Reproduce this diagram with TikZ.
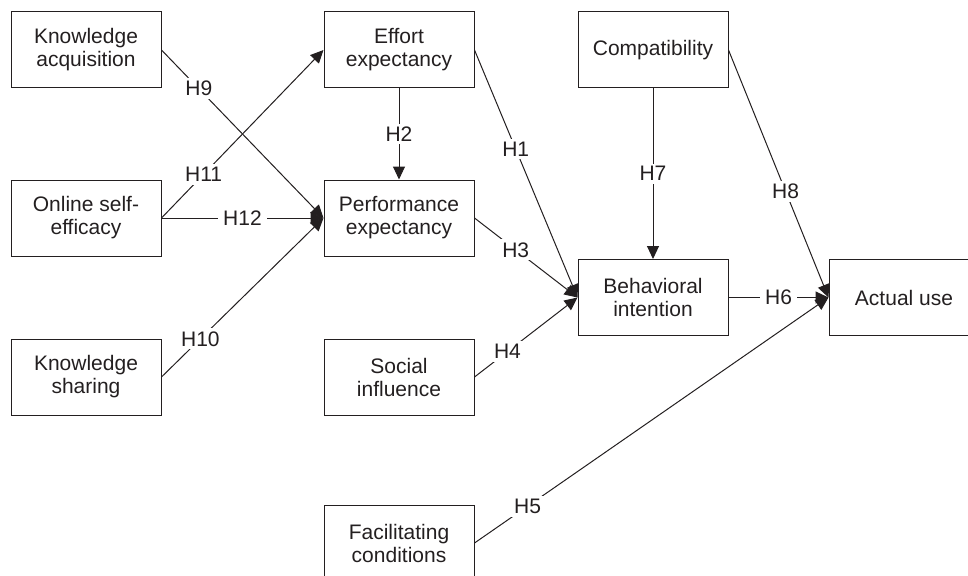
\documentclass[tikz,border=0pt]{standalone}
\usepackage{fontspec}
\setmainfont{Liberation Sans}
\usetikzlibrary{arrows.meta}
\definecolor{ink}{HTML}{231F20}
\begin{document}
\begin{tikzpicture}[x=1pt,y=-1pt,
  box/.style={draw=ink, line width=1pt, minimum width=150pt, minimum height=76pt, inner sep=0pt, align=center, text=ink, font=\fontsize{21}{23}\selectfont},
  conn/.style={draw=ink, line width=1pt, -{Triangle[length=13pt,width=12pt]}},
  hlab/.style={fill=white, inner xsep=5pt, inner ysep=3pt, text=ink, font=\fontsize{21}{23}\selectfont}]
\useasboundingbox (0,0) rectangle (968,575);
\clip (0,0) rectangle (968,575);
\node[box] (KA)  at (86,50)    {Knowledge\\acquisition};
\node[box] (OSE) at (86,218)   {Online self-\\efficacy};
\node[box] (KS)  at (86,377)   {Knowledge\\sharing};
\node[box] (EE)  at (399,50)   {Effort\\expectancy};
\node[box] (PE)  at (399,218)  {Performance\\expectancy};
\node[box] (SI)  at (399,377)  {Social\\influence};
\node[box] (FC)  at (399,543)  {Facilitating\\conditions};
\node[box] (C)   at (653,50)   {Compatibility};
\node[box] (BI)  at (653,297.5) {Behavioral\\intention};
\node[box] (AU)  at (904,297.5) {Actual use};
\draw[conn] (KA.east) -- node[hlab,pos=0.23]{H9} (PE.west);
\draw[conn] (OSE.east) -- node[hlab,pos=0.26]{H11} (EE.west);
\draw[conn] (OSE.east) -- node[hlab,pos=0.5]{H12} (PE.west);
\draw[conn] (KS.east) -- node[hlab,pos=0.24]{H10} (PE.west);
\draw[conn] (EE.south) -- node[hlab]{H2} (PE.north);
\draw[conn] (EE.east) -- node[hlab,pos=0.4]{H1} (BI.west);
\draw[conn] (PE.east) -- node[hlab,pos=0.4]{H3} (BI.west);
\draw[conn] (SI.east) -- node[hlab,pos=0.32]{H4} (BI.west);
\draw[conn] (C.south) -- node[hlab]{H7} (BI.north);
\draw[conn] (C.east) -- node[hlab,pos=0.57]{H8} (AU.west);
\draw[conn] (BI.east) -- node[hlab]{H6} (AU.west);
\draw[conn] (FC.east) -- node[hlab,pos=0.15]{H5} (AU.west);
\end{tikzpicture}
\end{document}
